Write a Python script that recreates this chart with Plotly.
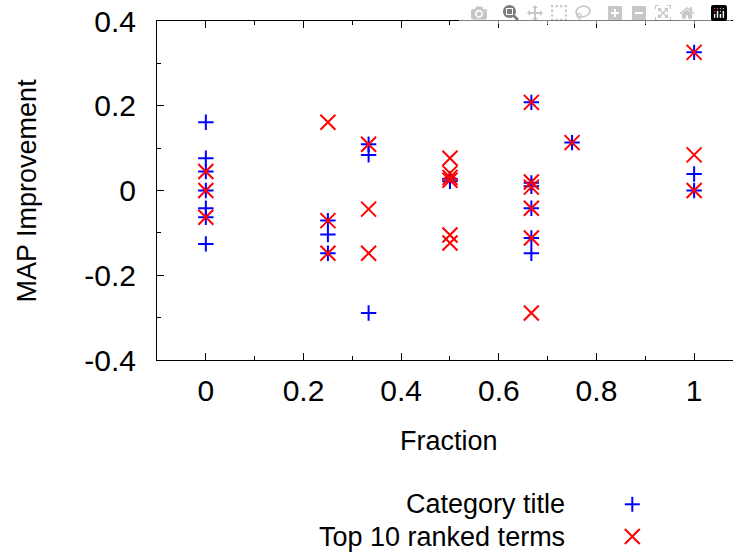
import plotly.graph_objects as go

# ---- data ----
cat_x = [0, 0, 0, 0, 0, 0, 0,
         0.25, 0.25, 0.25,
         1/3, 1/3, 1/3,
         0.5, 0.5,
         2/3, 2/3, 2/3, 2/3, 2/3, 2/3,
         0.75,
         1, 1, 1]
cat_y = [0.161, 0.076, 0.045, 0.0, -0.042, -0.063, -0.126,
         -0.071, -0.104, -0.148,
         0.109, 0.084, -0.289,
         0.028, 0.022,
         0.208, 0.018, 0.010, -0.042, -0.112, -0.148,
         0.113,
         0.326, 0.039, 0.0]

top_x = [0, 0, 0,
         0.25, 0.25, 0.25,
         1/3, 1/3, 1/3,
         0.5, 0.5, 0.5, 0.5, 0.5, 0.5,
         2/3, 2/3, 2/3, 2/3, 2/3, 2/3,
         0.75,
         1, 1, 1]
top_y = [0.045, 0.0, -0.063,
         0.161, -0.071, -0.148,
         0.109, -0.044, -0.148,
         0.076, 0.041, 0.031, 0.024, -0.105, -0.124,
         0.208, 0.020, 0.008, -0.042, -0.112, -0.289,
         0.113,
         0.326, 0.084, 0.0]

series_names = ["Category title", "Top 10 ranked terms"]
x_ticks = [0, 0.2, 0.4, 0.6, 0.8, 1]
x_tick_labels = ["0", "0.2", "0.4", "0.6", "0.8", "1"]
y_ticks = [-0.4, -0.2, 0, 0.2, 0.4]
y_tick_labels = ["-0.4", "-0.2", "0", "0.2", "0.4"]

BLUE = "#0000ff"
RED = "#ff0000"
FONT = "Liberation Sans, Arial, Helvetica, sans-serif"

W, H = 733, 554
ML, MT, MB = 157, 21, 193.5
PW = W - ML
PH = H - MT - MB

def px_x(p):
    return (p - ML) / PW

def px_y(p):
    return (H - MB - p) / PH

minor_ticks = dict(dtick=0.1, tick0=0, ticks="inside", ticklen=4, tickcolor="black", tickwidth=1)
axis_common = dict(
    showgrid=False, zeroline=False, showline=True, linecolor="black", linewidth=1,
    ticks="inside", ticklen=7, tickwidth=1, tickcolor="black",
    tickfont=dict(family=FONT, size=30, color="black"),
    ticklabeloverflow="allow",
)

fig = go.Figure()
fig.add_trace(go.Scatter(
    x=cat_x, y=cat_y, mode="markers", name=series_names[0],
    marker=dict(symbol="cross-thin", size=11, line=dict(color=BLUE, width=2), color=BLUE),
    showlegend=False, cliponaxis=False))
fig.add_trace(go.Scatter(
    x=top_x, y=top_y, mode="markers", name=series_names[1],
    marker=dict(symbol="x-thin", size=15, line=dict(color=RED, width=2), color=RED),
    showlegend=False, cliponaxis=False))

fig.update_layout(
    width=W, height=H, margin=dict(l=ML, r=0, t=MT, b=MB, pad=0),
    xaxis=dict(range=[-0.1, -0.1 + PW / 488.3], tickvals=x_ticks, ticktext=x_tick_labels,
               mirror="ticks", ticklabelstandoff=4, minor=minor_ticks, **axis_common),
    yaxis=dict(range=[-0.4, 0.4], tickvals=y_ticks, ticktext=y_tick_labels,
               mirror=False, ticklabelstandoff=14, minor=minor_ticks, **axis_common),
    plot_bgcolor="white", paper_bgcolor="white",
    showlegend=False,
    font=dict(family=FONT, color="black"),
)

lab_font = dict(family=FONT, size=27, color="black")
fig.add_annotation(text="Fraction", xref="paper", yref="paper", x=px_x(449), y=px_y(441.7),
                   xanchor="center", yanchor="middle", showarrow=False, font=lab_font)
fig.add_annotation(text="MAP Improvement", xref="paper", yref="paper", x=px_x(27), y=px_y(190.7),
                   xanchor="center", yanchor="middle", textangle=-90, showarrow=False, font=lab_font)
fig.add_annotation(text=series_names[0], xref="paper", yref="paper", x=px_x(567), y=px_y(505),
                   xanchor="right", yanchor="middle", showarrow=False, font=lab_font)
fig.add_annotation(text=series_names[1], xref="paper", yref="paper", x=px_x(567), y=px_y(537.3),
                   xanchor="right", yanchor="middle", showarrow=False, font=lab_font)

# legend keys (plus / cross) drawn as short line segments
kx, k1, k2, hs = px_x(632.3), px_y(505), px_y(537.3), 7.5
dxp, dyp = hs / PW, hs / PH
fig.add_shape(type="line", xref="paper", yref="paper", x0=kx - dxp, x1=kx + dxp, y0=k1, y1=k1,
              line=dict(color=BLUE, width=2))
fig.add_shape(type="line", xref="paper", yref="paper", x0=kx, x1=kx, y0=k1 - dyp, y1=k1 + dyp,
              line=dict(color=BLUE, width=2))
fig.add_shape(type="line", xref="paper", yref="paper", x0=kx - dxp, x1=kx + dxp, y0=k2 - dyp, y1=k2 + dyp,
              line=dict(color=RED, width=2))
fig.add_shape(type="line", xref="paper", yref="paper", x0=kx - dxp, x1=kx + dxp, y0=k2 + dyp, y1=k2 - dyp,
              line=dict(color=RED, width=2))

# remove the default page margin so the figure sits at the window's top-left corner
fig.write_html("out.html", post_script="document.body.style.margin='0px';")
